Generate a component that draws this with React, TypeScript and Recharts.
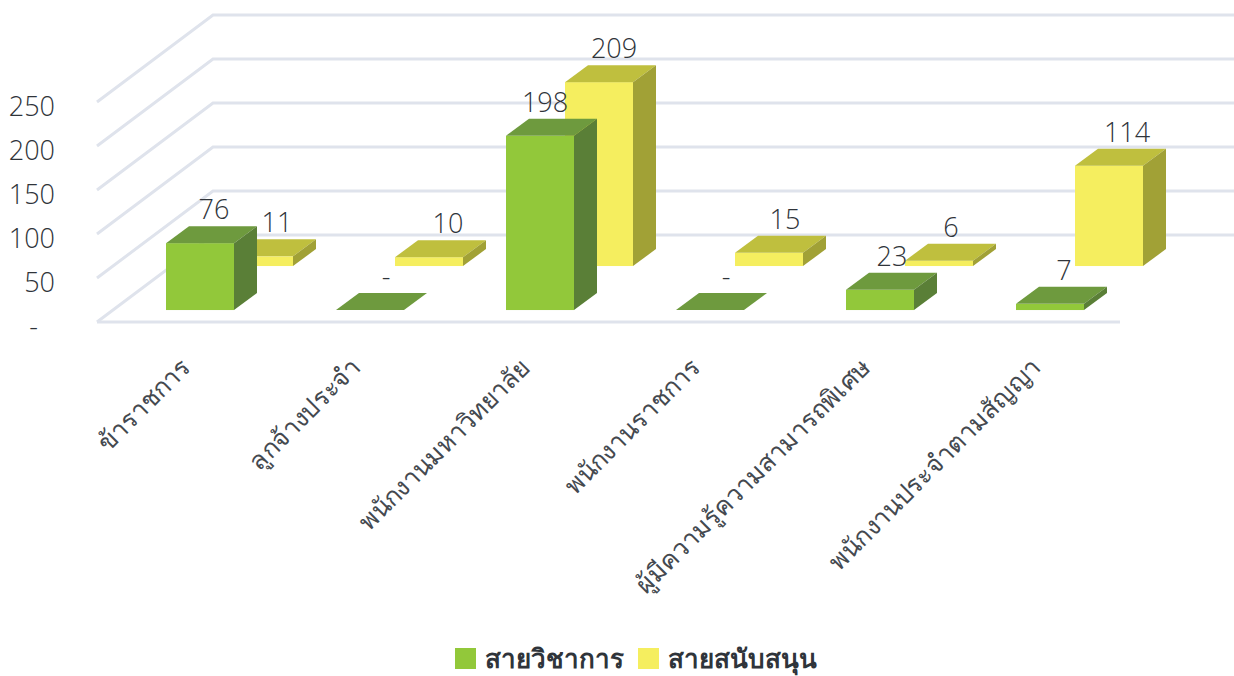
import * as React from "react";
import { BarChart, Bar, XAxis, YAxis, LabelList, Legend } from "recharts";

const categories = [
  "ข้าราชการ",
  "ลูกจ้างประจำ",
  "พนักงานมหาวิทยาลัย",
  "พนักงานราชการ",
  "ผู้มีความรู้ความสามารถพิเศษ",
  "พนักงานประจำตามสัญญา",
];
const academic = [76, 0, 198, 0, 23, 7];
const support = [11, 10, 209, 15, 6, 114];
const valueTicks = [0, 50, 100, 150, 200, 250];

// valueTicks happens to have one entry per category, so the grid rides along in the table
const data = categories.map((name, i) => ({
  name,
  academic: academic[i],
  support: support[i],
  gridLevel: valueTicks[i],
}));

const FONT = "'Open Sans', 'Noto Sans', sans-serif";
const TEXT = "#2f343a";
const GRID = "#dfe3ec";

// fake 3d: depth of a bar, and how far the floor runs back
const DEPTH_X = 23;
const DEPTH_Y = 17;
const PLOT_LEFT = 97;
const FLOOR_X = 116;
const FLOOR_Y = 87;
const FLOOR_RIGHT = 1120;
const CHART_RIGHT = 1234;

// label offsets to the right of each bar's centre, as placed in the source chart
const academicNudge = [14, 16, 5, 16, 12, 14];
const supportNudge = [18, 19, 15, 16, 12, 18];

const GREEN = { front: "#92c83a", top: "#6e9a3e", side: "#5a7f37" };
const YELLOW = { front: "#f5ee5f", top: "#bfbf3e", side: "#a1a136" };

const Box = (colors: typeof GREEN) => (props: any) => {
  const { x, y, width, height } = props;
  const r = x + width;
  const b = y + height;
  return (
    <g>
      <rect x={x} y={y} width={width} height={height} fill={colors.front} />
      <polygon
        points={`${x},${y} ${x + DEPTH_X},${y - DEPTH_Y} ${r + DEPTH_X},${y - DEPTH_Y} ${r},${y}`}
        fill={colors.top}
      />
      <polygon
        points={`${r},${y} ${r + DEPTH_X},${y - DEPTH_Y} ${r + DEPTH_X},${b - DEPTH_Y} ${r},${b}`}
        fill={colors.side}
      />
    </g>
  );
};

// grid line for one level: up the side wall, then along the back
const GridLevel = (props: any) => {
  const { y, gridLevel } = props;
  const backX = PLOT_LEFT + FLOOR_X;
  const backY = y - FLOOR_Y;
  return (
    <g>
      <polyline
        points={`${PLOT_LEFT},${y} ${backX},${backY} ${CHART_RIGHT},${backY}`}
        fill="none"
        stroke={GRID}
        strokeWidth={3}
      />
      {gridLevel === 0 && (
        <line x1={PLOT_LEFT} y1={y} x2={FLOOR_RIGHT} y2={y} stroke={GRID} strokeWidth={3} />
      )}
    </g>
  );
};

const ValueLabel = (nudge: number[]) => (props: any) => {
  const { x, y, width, value, index } = props;
  return (
    <text
      x={x + width / 2 + nudge[index]}
      y={y - 24}
      textAnchor="middle"
      fontFamily={FONT}
      fontWeight={300}
      fontSize={27}
      fill={TEXT}
    >
      {value === 0 ? "-" : value}
    </text>
  );
};

const CategoryTick = (props: any) => {
  const { x, y, payload } = props;
  const tx = x - 8;
  const ty = y + 9;
  return (
    <text
      x={tx}
      y={ty}
      textAnchor="end"
      transform={`rotate(-45 ${tx} ${ty})`}
      fontFamily={FONT}
      fontWeight={300}
      fontSize={25.5}
      fill="#44494f"
    >
      {payload.value}
    </text>
  );
};

const ValueTick = (props: any) => {
  const { y, payload } = props;
  const isFloor = payload.value === 0;
  return (
    <text
      x={isFloor ? 38 : 55}
      y={y + 14}
      textAnchor="end"
      fontFamily={FONT}
      fontWeight={300}
      fontSize={27}
      fill={TEXT}
    >
      {isFloor ? "-" : payload.value}
    </text>
  );
};

const LegendBox = () => (
  <div
    style={{
      display: "flex",
      justifyContent: "center",
      alignItems: "center",
      height: 36,
      paddingLeft: 37,
      fontFamily: FONT,
      fontSize: 26,
      fontWeight: 700,
      color: TEXT,
      lineHeight: "40px",
    }}
  >
    <span style={{ width: 21, height: 21, background: GREEN.front, marginRight: 9 }} />
    <span>สายวิชาการ</span>
    <span style={{ width: 21, height: 21, background: YELLOW.front, margin: "0 9px 0 14px" }} />
    <span>สายสนับสนุน</span>
  </div>
);

export default function App() {
  return (
    <div style={{ position: "absolute", left: 0, top: 0, width: 1234, height: 676, overflow: "hidden", background: "#fff" }}>
      <BarChart
        width={1234}
        height={676}
        data={data}
        barSize={68}
        margin={{ top: 15, right: 0, bottom: 0, left: 0 }}
      >
        <XAxis
          xAxisId="front"
          dataKey="name"
          padding={{ left: 18, right: 99 }}
          height={318}
          interval={0}
          axisLine={false}
          tickLine={false}
          tick={CategoryTick}
        />
        <XAxis xAxisId="back" dataKey="name" padding={{ left: 77, right: 40 }} hide />
        <XAxis xAxisId="wall" dataKey="name" hide />
        <YAxis
          yAxisId="wall"
          width={97}
          domain={[0, 348.9]}
          ticks={valueTicks}
          interval={0}
          axisLine={false}
          tickLine={false}
          tick={ValueTick}
        />
        <YAxis yAxisId="front" domain={[-13.6, 335.3]} hide />
        <YAxis yAxisId="back" domain={[-63.6, 285.3]} hide />

        <Bar
          xAxisId="wall"
          yAxisId="wall"
          dataKey="gridLevel"
          legendType="none"
          shape={GridLevel}
          isAnimationActive={false}
        />
        <Bar
          xAxisId="back"
          yAxisId="back"
          dataKey="support"
          name="สายสนับสนุน"
          fill={YELLOW.front}
          shape={Box(YELLOW)}
          isAnimationActive={false}
        >
          <LabelList dataKey="support" content={ValueLabel(supportNudge)} />
        </Bar>
        <Bar
          xAxisId="front"
          yAxisId="front"
          dataKey="academic"
          name="สายวิชาการ"
          fill={GREEN.front}
          shape={Box(GREEN)}
          isAnimationActive={false}
        >
          <LabelList dataKey="academic" content={ValueLabel(academicNudge)} />
        </Bar>
        <Legend verticalAlign="bottom" content={LegendBox} />
      </BarChart>
    </div>
  );
}
